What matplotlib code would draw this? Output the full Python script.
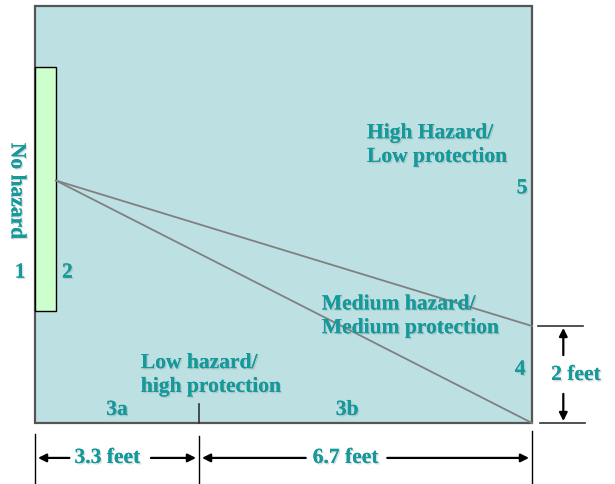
import matplotlib
matplotlib.use('Agg')
import matplotlib.pyplot as plt
import matplotlib.patches as mpatches
import matplotlib.patheffects as pe

# 区域尺寸（英尺）
zone_widths = [3.3, 6.7]
room_height = 8.6
barrier_span = [2.3, 7.35]
barrier_width = 0.42
source_y = 5.0
line_ends_y = [2.0, 0.0]
step_height = 2.0

zone_labels = ['High Hazard/\nLow protection', 'Medium hazard/\nMedium protection', 'Low hazard/\nhigh protection']
zone_numbers = ['1', '2', '3a', '3b', '4', '5']

teal = '#15999a'
fs = 15.5
font = 'Liberation Serif'
shadow = [pe.withSimplePatchShadow(offset=(1, -1), shadow_rgbFace='#999999', alpha=0.35), pe.Normal()]

fig = plt.figure(figsize=(6.15, 4.85), dpi=100)
ax = fig.add_axes([0, 0, 1, 1])
ax.set_xlim(-35 / 49.7, 580 / 49.7)
ax.set_ylim(-61 / 48.5, 424 / 48.5)
ax.axis('off')

width = sum(zone_widths)

# 房间
ax.add_patch(mpatches.Rectangle((0, 0), width, room_height, facecolor='#bde0e3',
                                edgecolor='#555555', linewidth=1.6, zorder=1))
# 屏障
ax.add_patch(mpatches.Rectangle((0, barrier_span[0]), barrier_width, barrier_span[1] - barrier_span[0],
                                facecolor='#ccffcc', edgecolor='black', linewidth=1.0, zorder=2))

# 斜线
for ye in line_ends_y:
    ax.plot([barrier_width, width], [source_y, ye], color='#808080', lw=1.3, zorder=3)

# 3a/3b 分界小刻度
ax.plot([zone_widths[0], zone_widths[0]], [0, 0.4], color='#333333', lw=1.2, zorder=3)

def label(x, y, s, **kw):
    ax.text(x, y, s, color=teal, fontsize=fs, fontweight='bold', family=font,
            path_effects=shadow, zorder=5, **kw)

label(-0.37, 4.78, 'No hazard', rotation=270, ha='center', va='center')
label(-0.3, 3.1, zone_numbers[0], ha='center', va='center')
label(0.65, 3.1, zone_numbers[1], ha='center', va='center')
label(6.68, 5.73, zone_labels[0], ha='left', va='center', linespacing=1.25)
label(9.8, 4.84, zone_numbers[5], ha='center', va='center')
label(5.77, 2.2, zone_labels[1], ha='left', va='center', linespacing=1.25)
label(9.76, 1.1, zone_numbers[4], ha='center', va='center')
label(2.13, 0.99, zone_labels[2], ha='left', va='center', linespacing=1.25)
label(1.65, 0.27, zone_numbers[2], ha='center', va='center')
label(6.28, 0.27, zone_numbers[3], ha='center', va='center')

# 右侧 2 feet 标注
ax.plot([width + 0.12, width + 1.03], [step_height, step_height], color='#333333', lw=1.2)
ax.plot([width + 0.16, width + 1.07], [0, 0], color='#333333', lw=1.2)
xa = width + 0.63
arrow = dict(arrowstyle='-|>', color='black', lw=1.6, mutation_scale=12, shrinkA=0, shrinkB=0)
ax.annotate('', xy=(xa, step_height - 0.04), xytext=(xa, 1.4), arrowprops=arrow)
ax.annotate('', xy=(xa, 0.04), xytext=(xa, 0.6), arrowprops=arrow)
label(xa + 0.25, 0.99, f'{step_height:g} feet', ha='center', va='center')

# 底部尺寸标注
ya = -0.72
for xv, y0 in [(0, -0.22), (zone_widths[0], -0.27), (width, -0.17)]:
    ax.plot([xv, xv], [y0, -1.26], color='black', lw=1.0)
x0 = 0
for w, (gl, gr) in zip(zone_widths, [(0.76, 0.88), (0.8, 0.84)]):
    mid = x0 + w * 0.44
    ax.annotate('', xy=(x0 + 0.06, ya), xytext=(mid - gl, ya), arrowprops=arrow)
    ax.annotate('', xy=(x0 + w - 0.06, ya), xytext=(mid + gr, ya), arrowprops=arrow)
    label(mid, ya, f'{w:g} feet', ha='center', va='center')
    x0 += w

plt.savefig('out.png', dpi=100)
